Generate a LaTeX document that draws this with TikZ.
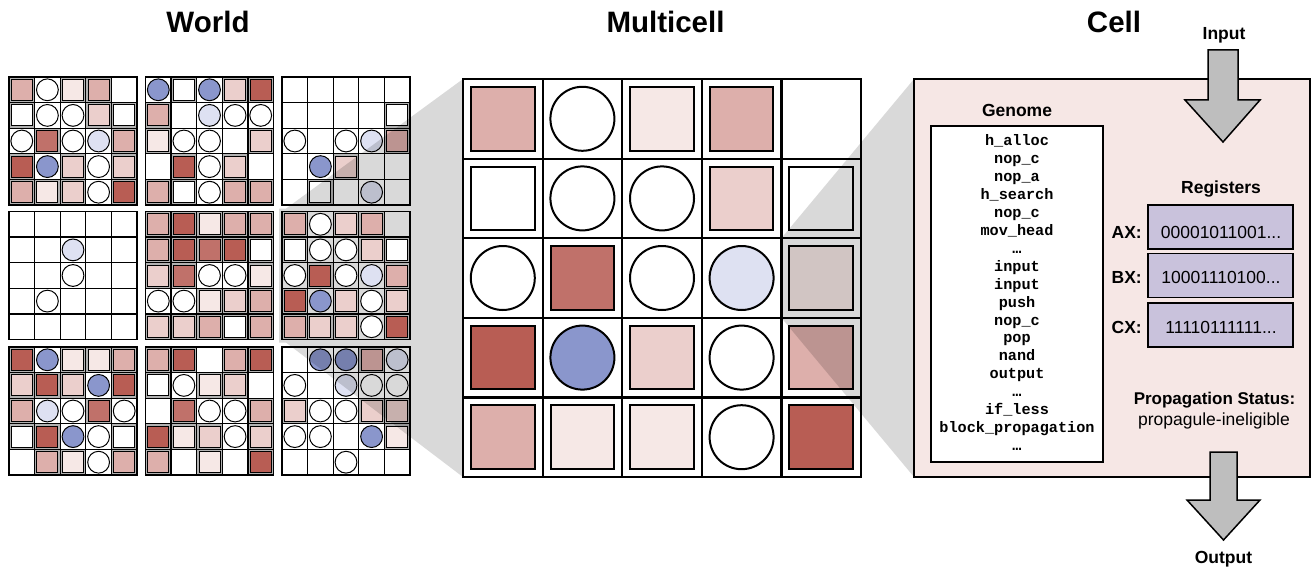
\documentclass[tikz,border=0pt]{standalone}
\usepackage{fontspec}
\setmainfont{Liberation Sans}
\newfontfamily\genomefont{Liberation Mono}

\definecolor{pkA}{HTML}{F6E8E6}
\definecolor{pkB}{HTML}{EBCFCC}
\definecolor{pkC}{HTML}{DDAFAB}
\definecolor{pkD}{HTML}{C0716A}
\definecolor{pkE}{HTML}{B85D54}
\definecolor{blueC}{HTML}{8A96CC}
\definecolor{lblueC}{HTML}{DEE1F2}
\definecolor{regC}{HTML}{C9C2DC}
\definecolor{panelC}{HTML}{F6E7E5}
\definecolor{arrowC}{HTML}{BEBEBE}

% one cell of an organism grid: square or circle, placed at (\qx,\qy)
\newcommand\sqcell[1]{%
  \fill[\ringcolor] (\qx,\qy) rectangle ++(\csz,\csz);
  \filldraw[fill=#1,line width=\shapelw pt] (\qx+\sqin,\qy+\sqin) rectangle (\qx+\csz-\sqin,\qy+\csz-\sqin);}
\newcommand\circcell[1]{%
  \filldraw[fill=#1,line width=\shapelw pt] (\qx+0.5*\csz,\qy+0.5*\csz) circle[radius=\crad pt];}

\expandafter\def\csname cde\endcsname{}
\expandafter\def\csname cdW\endcsname{\sqcell{white}}
\expandafter\def\csname cd1\endcsname{\sqcell{pkA}}
\expandafter\def\csname cd2\endcsname{\sqcell{pkB}}
\expandafter\def\csname cd3\endcsname{\sqcell{pkC}}
\expandafter\def\csname cd4\endcsname{\sqcell{pkD}}
\expandafter\def\csname cd5\endcsname{\sqcell{pkE}}
\expandafter\def\csname cdo\endcsname{\circcell{white}}
\expandafter\def\csname cdb\endcsname{\circcell{blueC}}
\expandafter\def\csname cdl\endcsname{\circcell{lblueC}}

% 5x5 organism: top-left corner x, y and the 25 cell codes row by row
\newcommand\organism[3]{%
  \foreach \cd [count=\idx from 0] in {#3} {%
    \pgfmathsetmacro\qx{#1+mod(\idx,5)*\csz}%
    \pgfmathsetmacro\qy{#2+floor(\idx/5)*\csz}%
    \csname cd\cd\endcsname
  }%
  \foreach \k in {0,...,5} {%
    \draw[line width=\gridlw pt,line cap=rect] (#1+\k*\csz,#2) -- ++(0,5*\csz);
    \draw[line width=\gridlw pt,line cap=rect] (#1,#2+\k*\csz) -- ++(5*\csz,0);
  }}

\newcommand\worldsizes{\def\csz{25.6}\def\sqin{2.3}\def\crad{10.9}\def\shapelw{1}\def\gridlw{1.3}\def\ringcolor{black!30}}
\newcommand\multisizes{\def\csz{79.6}\def\sqin{8}\def\crad{32}\def\shapelw{2}\def\gridlw{2.2}\def\ringcolor{white}}

\tikzset{
  ttl/.style={font=\fontsize{29.5}{34}\selectfont\bfseries, inner sep=0},
  lbl/.style={font=\fontsize{17.5}{21}\selectfont\bfseries, inner sep=0},
  txt/.style={font=\fontsize{17.5}{21}\selectfont, inner sep=0},
  gline/.style={font=\genomefont\bfseries\fontsize{15.2}{18}\selectfont, inner sep=0, anchor=base},
  regbox/.style={draw, fill=regC, line width=1.5pt, minimum width=145pt, minimum height=44pt, inner sep=0},
  shade/.style={fill=black, fill opacity=0.15},
  blockarrow/.style={fill=arrowC, draw=black, line width=1.5pt, line join=miter},
}

\begin{document}
\begin{tikzpicture}[x=1pt,y=-1pt]
\useasboundingbox (0,0) rectangle (1313,567);
\fill[white] (0,0) rectangle (1313,567);

% ---------------- World ----------------
\worldsizes
\organism{9}{77}{3,o,1,3,e,W,o,o,2,W,o,4,o,l,3,5,b,2,o,2,3,1,2,o,5}
\organism{145.5}{77}{b,W,b,2,5,3,e,l,o,o,1,o,o,e,2,e,5,o,2,e,3,W,o,3,3}
\organism{282}{77}{e,e,e,e,e,e,e,e,e,W,o,e,o,l,3,e,b,2,e,e,e,W,e,l,e}
\organism{9}{211.5}{e,e,e,e,e,e,e,l,e,e,e,e,o,e,e,e,o,e,e,e,e,e,e,e,e}
\organism{145.5}{211.5}{3,5,1,3,3,3,5,4,5,W,2,4,o,o,1,o,o,1,2,3,2,2,3,W,3}
\organism{9}{347}{5,b,1,1,3,2,5,2,b,5,3,l,o,4,o,W,5,b,o,W,e,3,1,o,3}
\organism{145.5}{347}{3,5,e,3,5,W,o,1,2,e,e,4,o,o,3,5,1,2,o,2,3,e,1,e,5}
\organism{282}{347}{e,b,b,3,l,o,e,l,o,o,2,o,o,2,2,o,o,e,b,1,e,e,o,e,e}

% projection of the selected organism onto the multicell view
\fill[shade] (279,208.5) -- (286.1,208.5) -- (463,79) -- (463,477)
  -- (285.9,342.5) -- (279,342.5) -- cycle;
\organism{282}{211.5}{3,o,2,3,e,W,o,o,2,W,o,5,o,l,3,5,b,2,o,2,3,2,2,o,5}

% ---------------- Multicell ----------------
\multisizes
\fill[white] (463,79) rectangle ++(398,398);
\organism{463}{79}{3,o,1,3,e,W,o,o,2,W,o,4,o,l,1,5,b,2,o,3,3,1,1,o,5}

% projection of one cell onto the cell view
\fill[shade] (781.4,238.2) -- (914,79) -- (914,477) -- (781.4,317.8) -- cycle;

% ---------------- Cell ----------------
\node[draw, fill=panelC, line width=2pt, minimum width=396pt, minimum height=398pt,
      anchor=north west, inner sep=0, outer sep=0] (panel) at (914,79) {};

\node[draw, fill=white, line width=1.5pt, minimum width=172pt, minimum height=336pt,
      anchor=north west, inner sep=0, outer sep=0] (genome) at (931,126) {};
\node[lbl, anchor=base] (genomet) at (1017,116.5) {Genome};
\foreach \ins [count=\j from 0] in {h\_alloc,nop\_c,nop\_a,h\_search,nop\_c,mov\_head,…,
    input,input,push,nop\_c,pop,nand,output,…,if\_less,block\_propagation,…}
  \node[gline] (g\j) at (1017,146+17.9*\j) {\ins};

\node[lbl, anchor=base] (regt) at (1221,193.5) {Registers};
\node[regbox] (ax) at (1220.5,227) {};
\node[regbox] (bx) at (1220.5,275.5) {};
\node[regbox] (cx) at (1220.5,324.8) {};
\node[txt, anchor=base] (axv) at (1221,238) {00001011001...};
\node[txt, anchor=base] (bxv) at (1221,283.5) {10001110100...};
\node[txt, anchor=base] (cxv) at (1221,333) {11110111111...};
\node[lbl, anchor=base east] (axl) at (1142,238) {AX:};
\node[lbl, anchor=base east] (bxl) at (1142,283.5) {BX:};
\node[lbl, anchor=base east] (cxl) at (1142,333) {CX:};

\node[lbl, font=\fontsize{17}{20}\selectfont\bfseries, anchor=base] (propt) at (1214.5,404.5) {Propagation Status:};
\node[txt, font=\fontsize{17.5}{20}\selectfont, anchor=base] (propv) at (1214,425) {propagule-ineligible};

% input and output arrows
\node[lbl, anchor=base] (inl) at (1224,39.5) {Input};
\coordinate (inarrow) at (1223,50);
\draw[blockarrow] (inarrow) ++(-15,0) -- ++(30,0) -- ++(0,50) -- ++(22,0)
  -- (1223,142) -- (1185,100) -- (1208,100) -- cycle;
\coordinate (outarrow) at (1223.5,452);
\draw[blockarrow] (outarrow) ++(-13.5,0) -- ++(27,0) -- ++(0,48) -- ++(23,0)
  -- (1223.5,540) -- (1187,500) -- (1210,500) -- cycle;
\node[lbl, anchor=base] (outl) at (1223.5,563) {Output};

% titles
\node[ttl, anchor=base] (tworld) at (208,33) {World};
\node[ttl, anchor=base] (tmulti) at (665.5,33) {Multicell};
\node[ttl, anchor=base] (tcell) at (1114,33) {Cell};
\end{tikzpicture}
\end{document}
